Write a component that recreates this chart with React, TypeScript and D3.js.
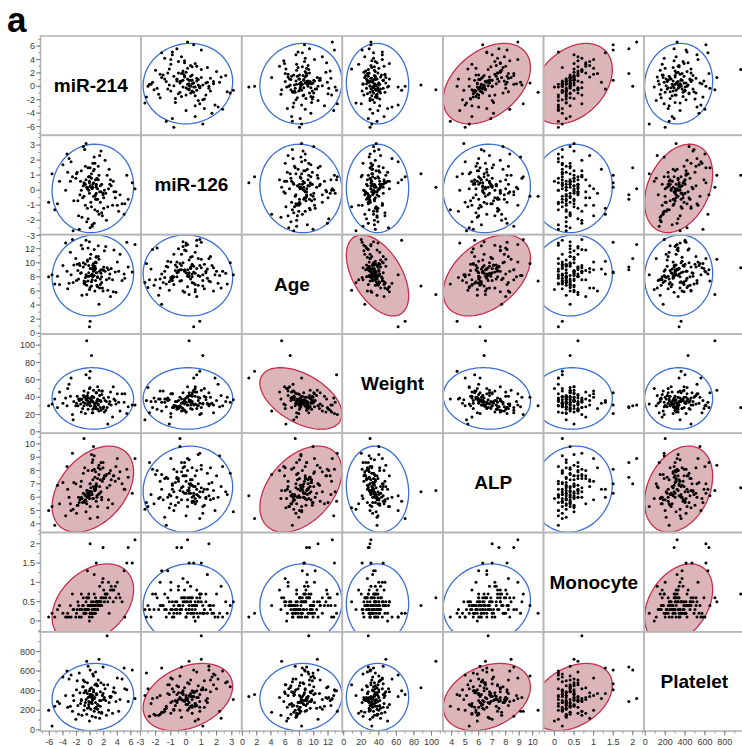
import React from "react"
import * as d3 from "d3"

// variables, in matrix order
const names = ["miR-214", "miR-126", "Age", "Weight", "ALP", "Monocyte", "Platelet"]

const mir214 = [0.5,-1.2,2.3,-3.1,1.0,4.2,-0.4,0.8,-2.0,3.1,
  0.2,-0.8,1.6,-4.5,0.6,2.7,-1.5,0.0,5.1,-0.2,
  1.3,-2.8,0.9,3.8,-0.6,0.3,-1.9,2.0,0.7,-3.6,
  1.1,-0.3,6.2,0.1,-1.0,2.5,-5.2,0.4,1.7,-2.4,
  0.9,-0.7,3.4,-0.1,1.4,-1.6,0.2,4.7,-0.9,0.6,
  -4.0,1.9,-0.5,2.9,0.0,1.7,1.2,-1.3,5.6,0.5,
  -0.2,3.5,-3.3,0.8,-0.4,1.5,2.2,-1.1,0.3,-6.1,
  1.0,4.4,-0.8,0.1,2.6,-2.6,0.7,-0.3,1.8,-1.4,
  3.0,0.4,1.1,6.6,0.2,-1.8,1.3,-0.1,2.4,-0.7,
  0.9,5.0,-0.7,1.6,-2.1,0.0,3.7,-1.0,0.6,-4.8,
  1.1,2.8,-0.5,0.3,-2.9,1.9,0.8,-0.6,4.0,-0.2,
  0.5,2.1,-1.7,0.0,3.3,-3.4,1.4,-0.9,0.7,5.4,
  -0.4,1.2,-2.5,0.4,2.0,-5.6,0.9,-0.1,1.5,-1.3]
const mir126 = [0.5,-1.8,-0.2,2.1,0.8,-1.4,0.2,-0.6,1.1,0.3,
  -1.1,0.4,2.6,0.6,-2.2,0.1,-0.3,1.5,-0.9,0.9,
  -1.6,1.9,0.3,-0.1,0.7,-2.4,1.2,-0.5,1.8,0.0,
  0.1,-1.9,0.5,-0.8,2.9,1.0,-1.3,0.2,0.4,-0.7,
  0.2,-1.0,0.6,-0.2,2.3,-2.6,0.8,-0.9,-0.4,1.4,
  1.7,-0.3,-2.1,0.4,0.9,-1.5,1.6,0.0,-0.6,1.3,
  0.0,-0.1,1.2,0.7,-1.2,0.3,2.0,-0.5,0.1,-0.8,
  -0.6,-0.3,2.7,0.2,-1.1,0.9,-0.4,1.5,-1.7,0.6,
  0.7,1.8,-1.4,0.1,1.1,-0.7,1.0,0.5,-2.0,0.4,
  0.4,-1.6,1.6,-0.1,0.8,-2.5,-0.5,0.3,2.2,-0.9,
  -0.6,1.4,0.2,-2.3,0.6,-0.2,-0.3,3.1,-1.0,0.9,
  -0.4,0.0,-1.7,0.3,-1.0,2.4,-0.1,0.5,-1.3,1.0,
  0.1,0.7,-2.7,0.4,-1.2,1.1,-0.2,0.6,-0.8,1.3]
const age = [9.5,5.4,12.3,7.1,6.8,8.8,10.4,10.1,7.5,9.2,
  7.3,7.2,8.5,6.9,11.9,9.0,9.6,10.6,7.8,8.1,
  4.1,8.3,10.8,5.8,13.2,7.6,9.8,8.9,6.0,12.8,
  6.6,12.1,8.7,11.2,10.0,9.3,7.0,8.0,8.0,9.7,
  8.6,7.9,5.9,13.0,6.4,9.9,8.2,7.5,7.4,9.1,
  9.6,9.0,6.8,8.4,1.7,7.2,10.9,12.5,9.4,8.8,
  8.6,11.8,6.3,9.2,10.2,7.7,8.8,12.0,8.4,8.0,
  8.6,11.2,7.0,8.2,6.1,13.3,9.0,7.4,6.4,8.5,
  5.2,9.3,7.9,12.6,6.7,8.9,10.5,0.9,7.6,9.8,
  10.9,8.4,7.3,9.0,10.6,6.5,8.7,9.4,8.2,8.1,
  8.0,7.8,5.5,9.1,11.5,6.0,7.5,8.3,10.1,9.6,
  9.9,11.7,7.7,9.2,7.6,8.8,8.8,7.1,9.5,12.9,
  8.1,12.4,7.2,9.7,9.4,8.3,10.0,6.2,6.9,8.6]
const weight = [48,38,25,55,36,34,42,29,33,31,
  37,41,35,46,28,40,38,30,44,33,
  24,62,27,32,66,22,41,29,31,39,
  52,26,31,30,34,28,38,35,43,35,
  45,21,52,34,42,36,40,44,30,33,
  33,28,39,35,70,47,32,23,29,40,
  34,38,50,27,36,36,36,27,41,30,
  35,24,40,37,9,20,29,45,47,32,
  46,22,38,31,88,30,48,62,35,33,
  45,34,40,25,30,51,36,42,29,28,
  26,32,105,35,41,27,33,37,44,39,
  40,23,38,34,17,30,36,47,29,21,
  31,31,14,26,39,32,45,50,28,37]
const alp = [6.8,5.9,7.6,6.0,6.1,7.4,6.3,7.9,4.8,7.3,
  6.2,8.2,6.4,5.5,8.1,5.8,5.8,7.0,6.6,6.0,
  7.7,5.0,6.9,8.3,5.7,8.6,5.4,7.4,6.5,4.6,
  5.3,8.0,6.3,6.4,7.8,6.7,3.9,8.8,6.0,7.1,
  7.0,6.1,7.6,6.4,6.8,5.6,9.2,7.0,10.4,6.6,
  7.1,8.6,5.5,6.9,4.4,5.8,8.2,7.2,7.5,5.9,
  6.3,7.6,6.6,6.6,6.0,7.3,7.6,5.6,8.0,5.0,
  6.0,7.9,6.2,6.7,5.2,9.3,6.5,6.1,7.2,6.8,
  8.0,5.9,4.5,8.9,6.4,5.4,8.4,6.1,7.7,5.6,
  5.7,6.6,5.8,8.6,7.0,5.3,7.2,6.3,9.1,6.9,
  7.4,7.8,6.5,6.2,5.5,8.2,6.7,4.9,8.9,6.4,
  9.8,7.6,6.0,7.0,5.5,8.3,6.3,5.7,7.5,8.1,
  6.5,6.2,5.1,7.3,7.4,5.3,6.8,5.9,8.1,6.0]
const monocyte = [0.4,0.3,0.6,0.1,0.5,0.7,0.3,0.2,0.2,0.9,
  0.2,0.3,0.5,0.4,0.7,1.0,0.3,2.0,0.1,0.6,
  0.4,0.1,0.5,0.6,0.2,0.3,0.3,0.8,0.4,0.1,
  0.5,0.6,1.5,0.2,0.4,0.7,0.1,0.3,0.6,0.3,
  1.5,0.3,0.5,0.4,0.9,0.1,0.5,0.5,0.2,1.2,
  0.2,1.9,0.3,0.6,0.2,0.4,0.4,0.1,1.9,0.5,
  0.3,0.8,0.2,0.6,1.3,0.5,0.7,0.4,0.2,0.1,
  0.5,0.6,0.2,0.4,0.5,0.7,0.3,0.4,1.0,0.3,
  0.8,0.2,0.3,2.1,0.4,0.5,0.5,0.1,0.7,0.2,
  0.4,1.3,0.3,0.6,0.1,0.4,0.9,0.6,0.2,0.3,
  0.3,0.2,0.6,0.1,0.4,1.1,0.3,0.5,1.0,0.7,
  0.4,0.5,0.4,0.2,0.8,0.1,0.5,0.2,0.3,1.5,
  0.6,0.4,0.3,0.4,0.6,0.2,0.5,0.0,0.4,0.7]
const platelet = [390,150,300,520,450,190,220,280,410,340,
  360,250,480,270,320,200,380,610,420,230,
  180,560,370,290,400,140,500,310,460,350,
  260,330,610,210,440,960,240,350,170,300,
  470,280,390,400,120,580,330,520,200,320,
  540,640,160,340,360,180,510,310,290,410,
  260,430,230,590,370,240,420,440,300,200,
  360,310,490,280,460,190,330,650,350,270,
  330,570,210,320,430,250,720,340,150,400,
  230,630,390,300,110,420,380,510,190,290,
  450,280,700,270,240,370,130,310,530,290,
  550,330,160,340,170,600,300,380,220,410,
  480,250,350,310,460,40,360,90,390,300]

const columns = [mir214, mir126, age, weight, alp, monocyte, platelet]

// axis ranges and ticks
const domains = [[-7.3, 7.5], [-2.95, 3.65], [-0.1, 14], [-1.6, 113], [3.35, 10.8], [-0.28, 2.29], [-12, 1000]]
const majorTicks = [
  [-6, -4, -2, 0, 2, 4, 6],
  [-3, -2, -1, 0, 1, 2, 3],
  [0, 2, 4, 6, 8, 10, 12],
  [0, 20, 40, 60, 80, 100],
  [4, 5, 6, 7, 8, 9, 10],
  [0, 0.5, 1, 1.5, 2],
  [0, 200, 400, 600, 800],
]
const minorStep = [1, 0.5, 1, 10, 0.5, 0.25, 100]

// 95% density ellipse parameters
const means = [0.4, 0.12, 8.2, 38.5, 6.6, 0.45, 335]
const sds = [2.45, 1.2, 2.35, 14.5, 1.32, 0.42, 140]
const corr = [
  [1, 0.05, 0.05, -0.02, 0.4, 0.35, 0.06],
  [0.05, 1, -0.05, 0.0, 0.05, 0.05, 0.32],
  [0.05, -0.05, 1, -0.5, 0.42, 0.05, 0.05],
  [-0.02, 0.0, -0.5, 1, -0.08, 0.0, 0.0],
  [0.4, 0.05, 0.42, -0.08, 1, 0.1, 0.3],
  [0.35, 0.05, 0.05, 0.0, 0.1, 1, 0.35],
  [0.06, 0.32, 0.05, 0.0, 0.3, 0.35, 1],
]
// pairs with significant correlation (filled red)
const significant = [[0, 4], [0, 5], [1, 6], [2, 3], [2, 4], [4, 6], [5, 6]]

const W = 742
const H = 746
const x0 = 40.5
const y0 = 36
const cw = 100.6
const ch = 99.3
const nVar = names.length
const chi = Math.sqrt(5.991)
const font = "'Liberation Sans', Arial, Helvetica, sans-serif"

function isSig(a: number, b: number) {
  return significant.some(p => (p[0] === a && p[1] === b) || (p[0] === b && p[1] === a))
}

function minorTicks(i: number) {
  const [lo, hi] = domains[i]
  const out: number[] = []
  const s = minorStep[i]
  for (let v = Math.ceil(lo / s) * s; v <= hi; v += s) out.push(+v.toFixed(4))
  return out
}

export default function App() {
  const xScales = names.map((_, j) => d3.scaleLinear().domain(domains[j]).range([x0 + j * cw, x0 + (j + 1) * cw]))
  const yScales = names.map((_, i) => d3.scaleLinear().domain(domains[i]).range([y0 + (i + 1) * ch, y0 + i * ch]))

  const cells: JSX.Element[] = []
  for (let i = 0; i < nVar; i++) {
    for (let j = 0; j < nVar; j++) {
      const cx = x0 + j * cw
      const cy = y0 + i * ch
      if (i === j) {
        cells.push(
          <text key={`lab${i}`} x={cx + cw / 2} y={cy + ch / 2 + 6.5} textAnchor="middle"
            fontFamily={font} fontWeight="bold" fontSize={19} fill="#000">{names[i]}</text>
        )
        continue
      }
      const x = xScales[j]
      const y = yScales[i]
      const r = corr[i][j]
      // ellipse in data space, x variable j, y variable i
      const ell = d3.range(0, 121).map(k => {
        const t = (k / 120) * 2 * Math.PI
        const z1 = chi * Math.cos(t)
        const z2 = chi * (r * Math.cos(t) + Math.sqrt(1 - r * r) * Math.sin(t))
        return [x(means[j] + sds[j] * z1), y(means[i] + sds[i] * z2)] as [number, number]
      })
      const path = d3.line().curve(d3.curveLinearClosed)(ell) || ""
      const sig = isSig(i, j)
      cells.push(
        <g key={`c${i}-${j}`} clipPath={`url(#clip${i}-${j})`}>
          <path d={path} fill={sig ? "#dcb5bb" : "none"} stroke={sig ? "#c4304b" : "#3b6fd6"} strokeWidth={1.3} />
          {columns[j].map((v, k) => (
            <circle key={k} cx={x(v)} cy={y(columns[i][k])} r={1.5} fill="#000" />
          ))}
        </g>
      )
    }
  }

  const clips = []
  for (let i = 0; i < nVar; i++)
    for (let j = 0; j < nVar; j++)
      clips.push(
        <clipPath key={`cp${i}-${j}`} id={`clip${i}-${j}`}>
          <rect x={x0 + j * cw} y={y0 + i * ch} width={cw} height={ch} />
        </clipPath>
      )

  const frames = []
  for (let i = 0; i < nVar; i++)
    for (let j = 0; j < nVar; j++)
      frames.push(
        <rect key={`f${i}-${j}`} x={x0 + j * cw} y={y0 + i * ch} width={cw} height={ch}
          fill="none" stroke="#b6b6b6" strokeWidth={1.6} />
      )

  // left axes
  const yAxes = names.map((_, i) => {
    const y = yScales[i]
    return (
      <g key={`ya${i}`}>
        {minorTicks(i).map(v => (
          <line key={`m${v}`} x1={x0 - 2.5} x2={x0} y1={y(v)} y2={y(v)} stroke="#8a8a8a" strokeWidth={0.8} />
        ))}
        {majorTicks[i].map(v => (
          <g key={`t${v}`}>
            <line x1={x0 - 4.5} x2={x0} y1={y(v)} y2={y(v)} stroke="#777" strokeWidth={0.9} />
            <text x={x0 - 5.5} y={y(v)} dy="0.35em" textAnchor="end" fontFamily={font} fontSize={9} fill="#3a3a3a">{v}</text>
          </g>
        ))}
      </g>
    )
  })

  // bottom axes
  const yb = y0 + nVar * ch
  const xAxes = names.map((_, j) => {
    const x = xScales[j]
    return (
      <g key={`xa${j}`}>
        {minorTicks(j).map(v => (
          <line key={`m${v}`} x1={x(v)} x2={x(v)} y1={yb} y2={yb + 2.5} stroke="#8a8a8a" strokeWidth={0.8} />
        ))}
        {majorTicks[j].map(v => (
          <g key={`t${v}`}>
            <line x1={x(v)} x2={x(v)} y1={yb} y2={yb + 4.5} stroke="#777" strokeWidth={0.9} />
            <text x={x(v)} y={yb + 13.5} textAnchor="middle" fontFamily={font} fontSize={9} fill="#3a3a3a">{v}</text>
          </g>
        ))}
      </g>
    )
  })

  return (
    <svg width={W} height={H} style={{ position: "absolute", left: 0, top: 0, background: "#fff" }}>
      <defs>{clips}</defs>
      <rect x={0} y={0} width={W} height={H} fill="#fff" />
      <text x={7} y={32} fontFamily={font} fontWeight="bold" fontSize={35} fill="#000">a</text>
      {cells}
      {frames}
      {yAxes}
      {xAxes}
    </svg>
  )
}
